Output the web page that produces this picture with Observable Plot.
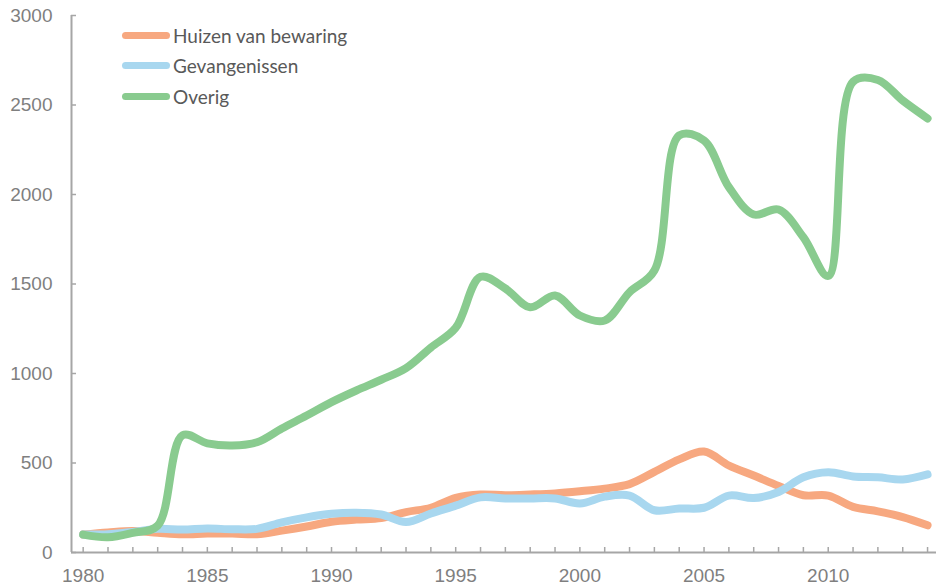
<!DOCTYPE html>
<html>
<head>
<meta charset="utf-8">
<script src="https://cdn.jsdelivr.net/npm/d3@7"></script>
<script src="https://cdn.jsdelivr.net/npm/@observablehq/plot@0.6"></script>
<style>
  html, body { margin: 0; padding: 0; background: #fff; }
  #wrap { position: relative; width: 936px; height: 587px; }
  #wrap svg { font-family: 'Liberation Sans', Arial, sans-serif; }
  #legend { position: absolute; left: 122px; top: 20px; font-family: Lato, sans-serif; font-size: 19px; color: #595959; }
  .item { display: flex; align-items: center; height: 30.5px; }
  .sw { width: 48px; height: 7px; border-radius: 4px; margin-right: 3px; }
</style>
</head>
<body>
<div id="wrap"><div id="legend"></div></div>
<script>
const years = [1980,1981,1982,1983,1984,1985,1986,1987,1988,1989,1990,1991,1992,1993,1994,1995,1996,1997,1998,1999,2000,2001,2002,2003,2004,2005,2006,2007,2008,2009,2010,2011,2012,2013,2014];
const huizen = [100,112,120,110,102,106,106,102,122,145,172,184,192,226,250,305,324,320,324,330,342,357,382,450,520,564,486,430,372,320,318,255,230,198,152];
const gevangenissen = [100,102,115,132,128,134,130,132,168,196,216,222,212,170,218,262,308,302,302,302,274,312,318,236,246,250,318,304,338,420,448,425,420,408,436];
const overig = [100,85,110,150,655,610,598,616,693,765,840,905,965,1030,1145,1255,1540,1475,1370,1436,1324,1296,1454,1575,2330,2302,2041,1888,1916,1761,1545,2630,2640,2525,2425];
const seriesNames = ["Huizen van bewaring", "Gevangenissen", "Overig"];
const seriesColors = ["#F7A880", "#A8D7EF", "#89CB8F"];
const yTicks = [0, 500, 1000, 1500, 2000, 2500, 3000];
const xTickLabels = [1980, 1985, 1990, 1995, 2000, 2005, 2010];

const seriesValues = [huizen, gevangenissen, overig];
const rows = [];
seriesNames.forEach((name, i) => years.forEach((yr, j) => rows.push({series: name, year: yr, value: seriesValues[i][j]})));

const W = 936, H = 587, mL = 71, mR = 0, mT = 15, mB = 35;
const xDomain = [1979.53, 2014.36];
const axisColor = "#a6a6a6";
const labelColor = "#7f7f7f";
const tickFont = "'Liberation Sans', Arial, sans-serif";

const chart = Plot.plot({
  width: W, height: H,
  marginLeft: mL, marginRight: mR, marginTop: mT, marginBottom: mB,
  style: {fontFamily: tickFont, fontSize: "19px", background: "white"},
  x: {domain: xDomain, label: null},
  y: {domain: [0, 3000], label: null},
  color: {domain: seriesNames, range: seriesColors},
  marks: [
    Plot.tickX(years, {x: d => d, stroke: axisColor, strokeWidth: 1.5, insetTop: H - mT - mB - 5}),
    Plot.tickY(yTicks, {y: d => d, stroke: axisColor, strokeWidth: 1.5, insetRight: W - mL - mR - 5}),
    Plot.ruleY([0], {stroke: axisColor, strokeWidth: 2}),
    Plot.ruleX([xDomain[0]], {stroke: axisColor, strokeWidth: 2, y1: 0, y2: 3000}),
    Plot.axisX({ticks: xTickLabels, tickFormat: d => String(d), tickSize: 0, tickPadding: 16, color: labelColor, fontSize: 19, fontFamily: tickFont, label: null}),
    Plot.axisY({ticks: yTicks, tickFormat: d => String(d), tickSize: 0, tickPadding: 19, color: labelColor, fontSize: 19, fontFamily: tickFont, label: null}),
    Plot.line(rows, {x: "year", y: "value", z: "series", stroke: "series", strokeWidth: 8, curve: "catmull-rom", strokeLinecap: "round", strokeLinejoin: "round"})
  ]
});
document.getElementById("wrap").prepend(chart);

const legend = document.getElementById("legend");
seriesNames.forEach((name, i) => {
  const it = document.createElement("div");
  it.className = "item";
  const sw = document.createElement("span");
  sw.className = "sw";
  sw.style.background = seriesColors[i];
  const tx = document.createElement("span");
  tx.textContent = name;
  it.append(sw, tx);
  legend.append(it);
});
</script>
</body>
</html>
